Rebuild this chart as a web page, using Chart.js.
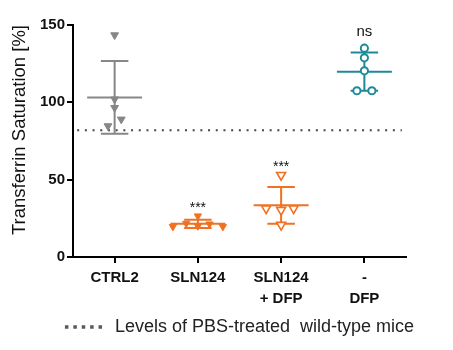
<!DOCTYPE html>
<html>
<head>
<meta charset="utf-8">
<script src="https://cdn.jsdelivr.net/npm/chart.js@4"></script>
<style>
  html, body { margin: 0; padding: 0; background: #fff; }
  #wrap { width: 453px; height: 350px; }
</style>
</head>
<body>
<div id="wrap"><canvas id="tsatChart" width="453" height="350"></canvas></div>
<script>
// groups on the x axis
const categories = [['CTRL2'], ['SLN124'], ['SLN124', '+ DFP'], ['-', 'DFP']];

// transferrin saturation per mouse (%)
const ctrl2Values = [143.5, 102, 96.5, 89, 84.7];
const sln124Values = [26.5, 19.6, 21.7, 20, 21.3, 19.6];
const slnDfpValues = [53, 31.4, 30.4, 31.4, 20.7];
const dfpValues = [135, 128.8, 120.4, 107.5, 107.5];

// horizontal scatter of the dots inside each group (category units)
const ctrl2Jitter = [0, 0, 0, 0.08, -0.08];
const sln124Jitter = [0, -0.3, -0.14, 0, 0.14, 0.3];
const slnDfpJitter = [0, -0.18, 0, 0.15, 0];
const dfpJitter = [0, 0, 0, -0.09, 0.09];

// significance vs CTRL2
const sigLabels = ['', '***', '***', 'ns'];

// PBS-treated wild-type level
const refLevel = 82;
const refLabel = 'Levels of PBS-treated  wild-type mice';

const yTicks = [0, 50, 100, 150];

const groups = [
  { values: ctrl2Values, jitter: ctrl2Jitter, color: '#878787', fill: '#878787', style: 'triangle', r: 4.5, bw: 1 },
  { values: sln124Values, jitter: sln124Jitter, color: '#f07122', fill: '#f07122', style: 'triangle', r: 4.2, bw: 1 },
  { values: slnDfpValues, jitter: slnDfpJitter, color: '#f07122', fill: '#ffffff', style: 'triangle', r: 5.2, bw: 1.6 },
  { values: dfpValues, jitter: dfpJitter, color: '#1e8a98', fill: '#ffffff', style: 'circle', r: 3.6, bw: 2 }
];

function mean(a) { return a.reduce((s, v) => s + v, 0) / a.length; }
function sd(a) {
  const m = mean(a);
  return Math.sqrt(a.reduce((s, v) => s + (v - m) * (v - m), 0) / (a.length - 1));
}

const FONT = "'Liberation Sans', Arial, sans-serif";
const datasets = [];

// dots
groups.forEach((g, i) => {
  datasets.push({
    data: g.values.map((v, k) => ({ x: i + g.jitter[k], y: v })),
    pointStyle: g.style,
    rotation: g.style === 'triangle' ? 180 : 0,
    pointRadius: g.r,
    pointBorderWidth: g.bw,
    pointBorderColor: g.color,
    pointBackgroundColor: g.fill,
    showLine: false,
    order: 0
  });
});

// mean +/- SD bars, built from the group values
groups.forEach((g, i) => {
  const m = mean(g.values), s = sd(g.values);
  const gap = { x: i, y: null };
  datasets.push({
    data: [
      { x: i - 0.33, y: m }, { x: i + 0.33, y: m }, gap,
      { x: i, y: m - s }, { x: i, y: m + s }, gap,
      { x: i - 0.165, y: m + s }, { x: i + 0.165, y: m + s }, gap,
      { x: i - 0.165, y: m - s }, { x: i + 0.165, y: m - s }
    ],
    showLine: true,
    spanGaps: false,
    borderColor: g.color,
    borderWidth: 2,
    pointRadius: 0,
    order: 1
  });
});

// dotted reference line
datasets.push({
  label: refLabel,
  data: [{ x: -0.45, y: refLevel }, { x: 3.45, y: refLevel }],
  showLine: true,
  borderColor: '#444',
  borderWidth: 2,
  borderDash: [2, 5.7],
  pointRadius: 0,
  clip: 0,
  order: 2
});

// *** / ns above each group
const sigPlugin = {
  id: 'sigPlugin',
  afterDatasetsDraw(chart, args, opts) {
    const { ctx, scales: { x, y } } = chart;
    ctx.save();
    ctx.fillStyle = '#111';
    ctx.textAlign = 'center';
    ctx.textBaseline = 'alphabetic';
    groups.forEach((g, i) => {
      if (!sigLabels[i]) return;
      const top = Math.max(Math.max(...g.values), mean(g.values) + sd(g.values));
      ctx.font = (sigLabels[i] === 'ns' ? '15px ' : '14px ') + FONT;
      ctx.fillText(sigLabels[i], x.getPixelForValue(i), y.getPixelForValue(top) - opts.gaps[i]);
    });
    ctx.restore();
  }
};

// legend under the axis, centred on the plot area
const refLegend = {
  id: 'refLegend',
  afterDraw(chart, args, opts) {
    const { ctx, chartArea } = chart;
    const ds = chart.data.datasets[datasets.length - 1];
    ctx.save();
    ctx.font = '18px ' + FONT;
    const textW = ctx.measureText(ds.label).width;
    const total = opts.sampleWidth + opts.gap + textW;
    const x0 = (chartArea.left + chartArea.right) / 2 - total / 2;
    const yc = opts.y;
    ctx.strokeStyle = '#5a5a5a';
    ctx.lineWidth = 3.5;
    ctx.setLineDash([3.5, 4.9]);
    ctx.beginPath();
    ctx.moveTo(x0, yc);
    ctx.lineTo(x0 + opts.sampleWidth, yc);
    ctx.stroke();
    ctx.setLineDash([]);
    ctx.fillStyle = '#222';
    ctx.textAlign = 'left';
    ctx.textBaseline = 'middle';
    ctx.fillText(ds.label, x0 + opts.sampleWidth + opts.gap, yc);
    ctx.restore();
  }
};

new Chart(document.getElementById('tsatChart'), {
  type: 'scatter',
  data: { datasets: datasets },
  plugins: [sigPlugin, refLegend],
  options: {
    responsive: false,
    animation: false,
    layout: { padding: { left: 0, right: 47, top: 25, bottom: 43 } },
    plugins: {
      tooltip: { enabled: false },
      legend: { display: false },
      sigPlugin: { gaps: [0, 4, 4, 12] },
      refLegend: { sampleWidth: 38, gap: 12, y: 327 }
    },
    scales: {
      x: {
        type: 'linear',
        min: -0.5,
        max: 3.5,
        afterBuildTicks: (scale) => { scale.ticks = categories.map((c, i) => ({ value: i })); },
        afterFit: (scale) => { scale.height = 50; },
        ticks: {
          callback: (v) => categories[v],
          font: { family: FONT, size: 15, weight: 'bold', lineHeight: 1.4 },
          color: '#111',
          padding: 4,
          maxRotation: 0,
          autoSkip: false
        },
        grid: { drawOnChartArea: false, drawTicks: true, tickLength: 6, color: '#000', lineWidth: 2 },
        border: { display: true, color: '#000', width: 2 }
      },
      y: {
        min: 0,
        max: 150,
        afterBuildTicks: (scale) => { scale.ticks = yTicks.map(v => ({ value: v })); },
        afterFit: (scale) => { scale.width = 73; },
        ticks: {
          font: { family: FONT, size: 15, weight: 'bold' },
          color: '#111',
          padding: 2
        },
        grid: { drawOnChartArea: false, drawTicks: true, tickLength: 6, color: '#000', lineWidth: 2 },
        border: { display: true, color: '#000', width: 2 },
        title: {
          display: true,
          align: 'end',
          text: 'Transferrin Saturation [%]',
          font: { family: FONT, size: 18.5 },
          color: '#111',
          padding: { top: 9, bottom: 4 }
        }
      }
    }
  }
});
</script>
</body>
</html>
